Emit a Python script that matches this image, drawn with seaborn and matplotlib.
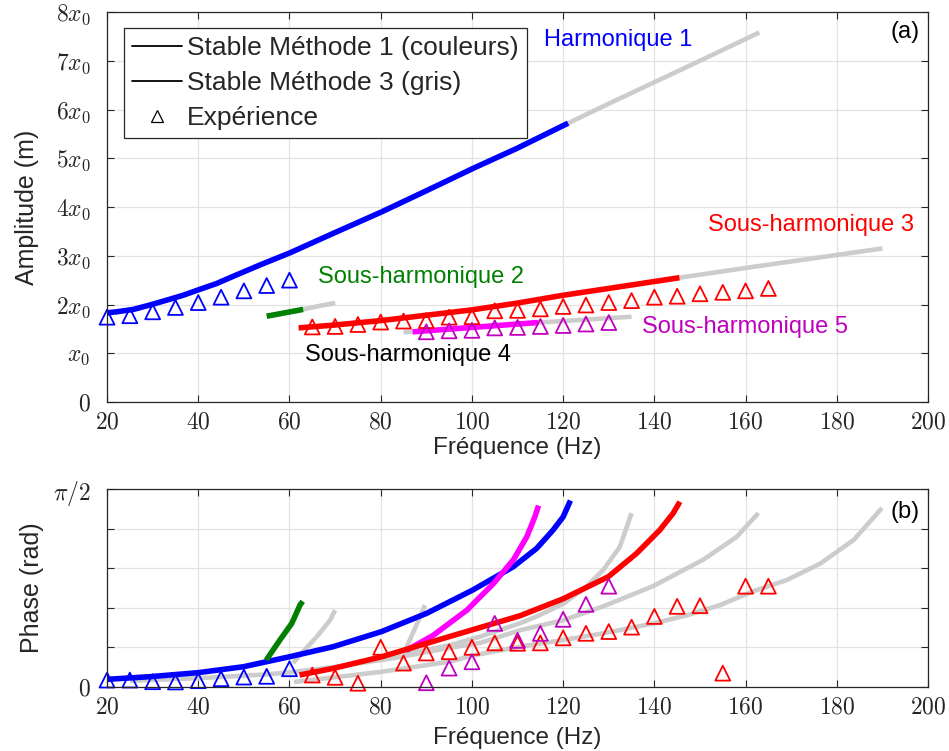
import numpy as np
import matplotlib
matplotlib.use("Agg")
import matplotlib.pyplot as plt
from matplotlib.lines import Line2D
import seaborn as sns

# ---------------- data : amplitude (in units of x0) ----------------
h1_f = [20, 22.1, 25.8, 29.4, 33.1, 36.7, 40, 44, 47.7, 53.5, 60.1, 69.6,
        80.2, 91.5, 100.2, 109.8, 121.1]
h1_a = [1.83, 1.85, 1.90, 1.99, 2.09, 2.19, 2.30, 2.43, 2.58, 2.81, 3.06, 3.46,
        3.90, 4.40, 4.79, 5.20, 5.72]
h1g_f = [121.1, 130, 140, 150, 163]
h1g_a = [5.72, 6.12, 6.56, 7.00, 7.58]

sh2_f = [55, 59, 63]
sh2_a = [1.76, 1.83, 1.90]
sh2g_f = [63, 66.5, 70]
sh2g_a = [1.90, 1.97, 2.03]

sh3_f = [62, 70, 80, 90, 100, 110, 120, 130, 145.5]
sh3_a = [1.52, 1.58, 1.67, 1.78, 1.89, 2.03, 2.19, 2.33, 2.55]
sh3g_f = [145.5, 160, 175, 190]
sh3g_a = [2.55, 2.75, 2.95, 3.15]

sh5_f = [87, 100, 114.5]
sh5_a = [1.44, 1.53, 1.63]
sh5g_f = [85, 100, 114.5, 125, 135]
sh5g_a = [1.43, 1.53, 1.63, 1.69, 1.75]

exp1_f = [20, 25, 30, 35, 40, 45, 50, 55, 60]
exp1_a = [1.74, 1.77, 1.85, 1.94, 2.04, 2.15, 2.28, 2.39, 2.50]
exp3_f = list(range(65, 170, 5))
exp3_a = [1.54, 1.55, 1.59, 1.64, 1.66, 1.67, 1.74, 1.75, 1.87, 1.88, 1.91,
          1.96, 1.99, 2.04, 2.08, 2.15, 2.17, 2.22, 2.25, 2.28, 2.33]
exp5_f = [90, 95, 100, 105, 110, 115, 120, 125, 130]
exp5_a = [1.44, 1.46, 1.47, 1.52, 1.53, 1.55, 1.57, 1.60, 1.63]

# ---------------- data : phase (rad) ----------------
h1p_f = [20, 29.4, 40, 49.9, 60, 69.6, 80.2, 90.1, 100.2, 109.1, 114.2,
         117.8, 120, 121.6]
h1p_p = [0.061, 0.082, 0.114, 0.161, 0.24, 0.32, 0.44, 0.585, 0.77, 0.955,
         1.10, 1.246, 1.35, 1.48]
sh2p_f = [54.9, 57.9, 60.5, 62.3, 62.9]
sh2p_p = [0.214, 0.373, 0.505, 0.65, 0.68]
sh2pg_f = [60.8, 62.3, 66.0, 68.9, 70]
sh2pg_p = [0.19, 0.254, 0.40, 0.53, 0.61]
stub_f = [85.5, 86.1, 87.2, 88.3, 89.7]
stub_p = [0.30, 0.35, 0.44, 0.53, 0.65]
sh5p_f = [85.6, 91.5, 98.9, 104.7, 109.1, 112.0, 113.8, 114.6]
sh5p_p = [0.29, 0.41, 0.61, 0.82, 1.01, 1.19, 1.35, 1.44]
sh3p_f = [62.2, 69.6, 80.2, 90.1, 100.2, 110.5, 120, 129.9, 136.1, 141.2,
          144.1, 145.6]
sh3p_p = [0.095, 0.148, 0.24, 0.347, 0.455, 0.565, 0.70, 0.875, 1.06, 1.246,
          1.378, 1.47]
g3_f = [85, 95, 101.8, 110.5, 114.2, 120, 125.2, 128.8, 132.4, 135]
g3_p = [0.26, 0.33, 0.40, 0.505, 0.56, 0.66, 0.80, 0.93, 1.11, 1.38]
g4_f = [25, 40, 55, 61, 70, 83, 95, 101.8, 110.5, 120, 128.8, 139.7, 150.7,
        158, 162.8]
g4_p = [0.05, 0.07, 0.10, 0.12, 0.16, 0.23, 0.31, 0.35, 0.45, 0.53, 0.64,
        0.80, 1.01, 1.19, 1.38]
g5_f = [61, 80, 95, 100.2, 110.5, 120, 128.8, 139.8, 147.2, 154.4, 161.7,
        169.1, 176.4, 183.7, 189.9]
g5_p = [0.04, 0.12, 0.20, 0.25, 0.32, 0.373, 0.426, 0.505, 0.57, 0.65, 0.76,
        0.85, 0.98, 1.167, 1.42]

exp1_p = [0.055, 0.055, 0.042, 0.04, 0.05, 0.066, 0.079, 0.085, 0.145]
exp3_p = [0.095, 0.077, 0.03, 0.315, 0.19, 0.27, 0.28, 0.315, 0.35, 0.347,
          0.35, 0.39, 0.426, 0.44, 0.475, 0.56, 0.64, 0.645, 0.11, 0.80, 0.80]
exp5_p = [0.034, 0.15, 0.20, 0.505, 0.37, 0.426, 0.537, 0.656, 0.80]

BLUE, RED, GREEN = "#0000ff", "#ff0000", "#008000"
MAG_LINE, MAG_MARK, GREY = "#ff00ff", "#bf00bf", "#cccccc"
AXC = "#262626"

sns.set_theme(style="white")
plt.rcParams["font.family"] = ["Liberation Sans", "DejaVu Sans"]
plt.rcParams["mathtext.fontset"] = "cm"

fig = plt.figure(figsize=(9.49, 7.51), dpi=100)
ax1 = fig.add_axes([0.1128, 0.4647, 0.8651, 0.5193])
ax2 = fig.add_axes([0.1128, 0.0852, 0.8651, 0.2636])

LW_C, LW_G = 4.0, 3.3


def curve(ax, f, v, color, lw, z):
    sns.lineplot(x=f, y=v, color=color, linewidth=lw, ax=ax, zorder=z,
                 solid_capstyle="butt")


def exp(ax, f, v, color):
    sns.scatterplot(x=f, y=v, marker="^", s=115, color=color,
                    facecolors="none", edgecolor=color, linewidth=1.3,
                    ax=ax, zorder=5, clip_on=False)


# ---- amplitude panel ----
curve(ax1, h1g_f, h1g_a, GREY, LW_G, 2)
curve(ax1, sh2g_f, sh2g_a, GREY, LW_G, 2)
curve(ax1, sh3g_f, sh3g_a, GREY, LW_G, 2)
curve(ax1, sh5g_f, sh5g_a, GREY, LW_G, 2)
curve(ax1, h1_f, h1_a, BLUE, LW_C, 3)
curve(ax1, sh2_f, sh2_a, GREEN, LW_C, 3)
curve(ax1, sh3_f, sh3_a, RED, LW_C, 3)
curve(ax1, sh5_f, sh5_a, MAG_LINE, LW_C, 3)
exp(ax1, exp1_f, exp1_a, BLUE)
exp(ax1, exp3_f, exp3_a, RED)
exp(ax1, exp5_f, exp5_a, MAG_MARK)

ax1.set_ylim(0, 8)
ax1.set_yticks(range(9))
ax1.set_yticklabels(["$0$", "$x_0$"] + [f"${k}x_0$" for k in range(2, 9)])

fs = 17
ax1.text(132, 7.43, "Harmonique 1", color=BLUE, fontsize=fs, ha="center", va="center")
ax1.text(174.4, 3.63, "Sous-harmonique 3", color=RED, fontsize=fs, ha="center", va="center")
ax1.text(88.8, 2.56, "Sous-harmonique 2", color=GREEN, fontsize=fs, ha="center", va="center")
ax1.text(159.9, 1.54, "Sous-harmonique 5", color=MAG_MARK, fontsize=fs, ha="center", va="center")
ax1.text(86.0, 0.96, "Sous-harmonique 4", color="black", fontsize=fs, ha="center", va="center")
ax1.text(195, 7.59, "(a)", color="black", fontsize=fs, ha="center", va="center")

handles = [Line2D([], [], color="black", lw=1.3),
           Line2D([], [], color="black", lw=1.3),
           Line2D([], [], color="black", ls="", marker="^", mfc="none",
                  mec="black", ms=8, mew=0.9)]
labels = ["Stable Méthode 1 (couleurs)", "Stable Méthode 3 (gris)", "Expérience"]
leg = ax1.legend(handles, labels, loc="upper left", bbox_to_anchor=(0.0207, 0.959),
                 borderaxespad=0, fontsize=19, frameon=True, fancybox=False,
                 framealpha=1, edgecolor=AXC, handlelength=1.9, handletextpad=0.2,
                 borderpad=0.3, labelspacing=0.42)
leg.get_frame().set_linewidth(0.9)

# ---- phase panel ----
for f, p in [(sh2pg_f, sh2pg_p), (stub_f, stub_p), (g3_f, g3_p),
             (g4_f, g4_p), (g5_f, g5_p)]:
    curve(ax2, f, p, GREY, LW_G, 2)
curve(ax2, h1p_f, h1p_p, BLUE, LW_C, 3)
curve(ax2, sh2p_f, sh2p_p, GREEN, LW_C, 3)
curve(ax2, sh5p_f, sh5p_p, MAG_LINE, LW_C, 3)
curve(ax2, sh3p_f, sh3p_p, RED, LW_C, 3)
exp(ax2, exp1_f, exp1_p, BLUE)
exp(ax2, exp3_f, exp3_p, RED)
exp(ax2, exp5_f, exp5_p, MAG_MARK)
ax2.text(195, 1.39, "(b)", color="black", fontsize=fs, ha="center", va="center")

ax2.set_ylim(0, np.pi / 2)
ax2.set_yticks([k * np.pi / 10 for k in range(6)])
ax2.set_yticklabels(["$0$", "", "", "", "", r"$\pi/2$"])

for ax, ylab, xpad, ypad in [(ax1, "Amplitude (m)", 2, 12), (ax2, "Phase (rad)", 6, 6)]:
    ax.set_xlim(20, 200)
    ax.set_xticks(range(20, 201, 20))
    ax.set_xticklabels([f"${v}$" for v in range(20, 201, 20)])
    ax.grid(True, color="#e3e3e3", linewidth=0.9)
    ax.set_axisbelow(True)
    for sp in ax.spines.values():
        sp.set_color(AXC)
        sp.set_linewidth(0.9)
        sp.set_zorder(6)
    ax.tick_params(direction="in", length=5, width=0.8, color=AXC,
                   top=True, right=True, bottom=True, left=True, labelsize=17)
    ax.tick_params(axis="x", pad=7)
    ax.tick_params(axis="y", pad=12)
    ax.set_xlabel("Fréquence (Hz)", fontsize=17.5, labelpad=xpad)
    ax.set_ylabel(ylab, fontsize=18, labelpad=ypad)

fig.savefig("out.png", dpi=100)
